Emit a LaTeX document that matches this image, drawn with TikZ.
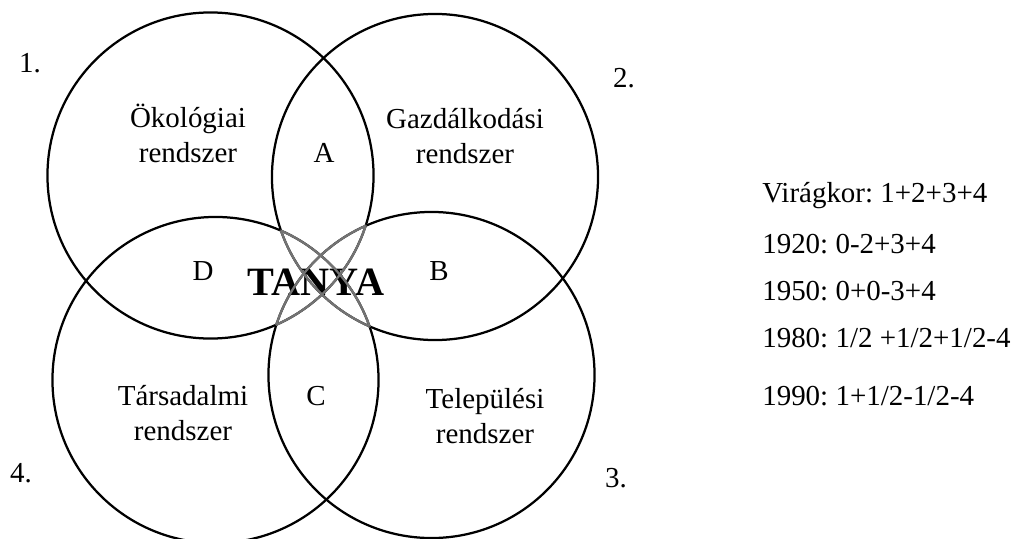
\documentclass[tikz,border=0pt]{standalone}
\usepackage{fontspec}
\setmainfont{Liberation Serif}
\usetikzlibrary{positioning}
\frenchspacing

\tikzset{
  ring/.style={draw=black, line width=1.6pt},
  lens/.style={draw=black!55, line width=1.6pt},
  sysname/.style={align=center, inner sep=0pt, font=\fontsize{20.6}{24.8}\selectfont},
  zone/.style={anchor=base, inner sep=0pt, font=\fontsize{20.6}{24.8}\selectfont},
  era/.style={anchor=base west, inner sep=0pt, font=\fontsize{20.6}{24.8}\selectfont},
}

\begin{document}
\begin{tikzpicture}[x=0.025cm, y=-0.025cm]
    \useasboundingbox (0,0) rectangle (1015,539);

    % Circle centres (pixel grid)
    \foreach \n/\cx/\cy in {1/210.5/175.5, 2/435/177, 3/431.5/375, 4/215.5/380} {
        \coordinate (c\n) at (\cx,\cy);
    }

    % Centre word
    \node[anchor=base, inner sep=0pt, font=\fontsize{28.6}{32}\selectfont\bfseries] (tanya) at (316,295) {TANYA};

    % The four systems
    \foreach \n in {1,...,4} {
        \draw[ring] (c\n) circle [radius=4.075cm];
    }

    % Diagonal overlaps in grey
    \begin{scope}
        \clip (c4) circle [radius=4.075cm];
        \draw[lens] (c2) circle [radius=4.075cm];
    \end{scope}
    \begin{scope}
        \clip (c2) circle [radius=4.075cm];
        \draw[lens] (c4) circle [radius=4.075cm];
    \end{scope}
    \begin{scope}
        \clip (c3) circle [radius=4.075cm];
        \draw[lens] (c1) circle [radius=4.075cm];
    \end{scope}
    \begin{scope}
        \clip (c1) circle [radius=4.075cm];
        \draw[lens] (c3) circle [radius=4.075cm];
    \end{scope}

    % System names
    \node[sysname] (oko) at (188,133) {Ökológiai\\rendszer};
    \node[sysname] (gazd) at (465,136) {Gazdálkodási\\rendszer};
    \node[sysname] (tars) at (183,413) {Társadalmi\\rendszer};
    \node[sysname] (telep) at (485,416) {Települési\\rendszer};

    % Overlap letters
    \node[zone] (zA) at (324,162) {A};
    \node[zone] (zB) at (439,280) {B};
    \node[zone] (zC) at (316,405) {C};
    \node[zone] (zD) at (203,280) {D};

    % Circle numbers
    \node[zone] (n1) at (30,72) {1.};
    \node[zone] (n2) at (624,87) {2.};
    \node[zone] (n3) at (616,487) {3.};
    \node[zone] (n4) at (21,482) {4.};

    % Periods
    \foreach \i/\y/\txt in {1/202/{Virágkor: 1+2+3+4}, 2/253/{1920: 0-2+3+4}, 3/300.5/{1950: 0+0-3+4}, 4/347/{1980: 1/2 +1/2+1/2-4}, 5/405/{1990: 1+1/2-1/2-4}} {
        \node[era] (era\i) at (762,\y) {\txt};
    }
\end{tikzpicture}
\end{document}
